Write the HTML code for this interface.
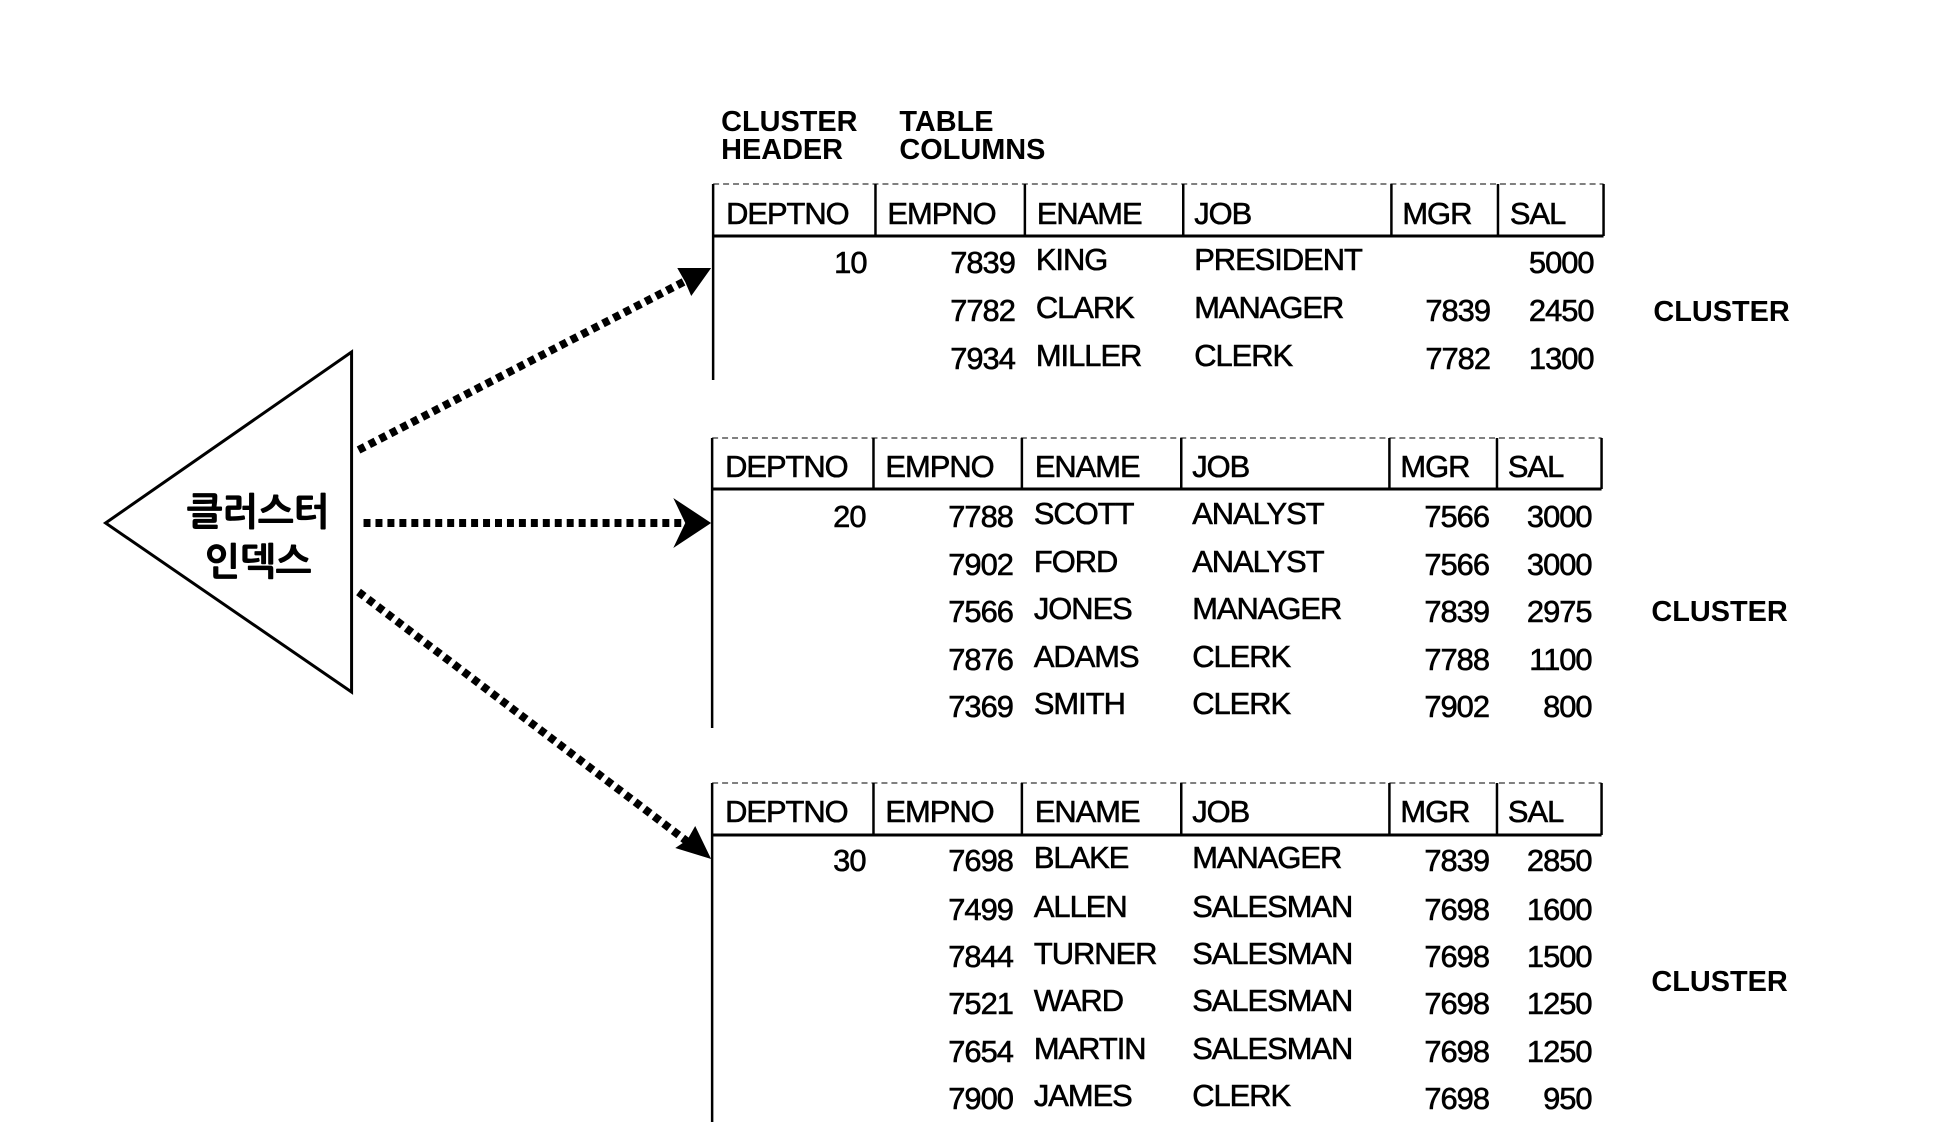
<!DOCTYPE html>
<html><head><meta charset="utf-8"><style>
html,body{margin:0;padding:0;background:#fff;}
svg{display:block}
.h{font-family:"Liberation Sans",sans-serif;font-size:31px;fill:#000;letter-spacing:-1px;stroke:#000;stroke-width:0.6px}
.b{font-family:"Liberation Sans",sans-serif;font-size:29px;font-weight:bold;fill:#000}
.k{font-family:"Liberation Sans","NanumGothic","Noto Sans CJK KR",sans-serif;font-size:38px;font-weight:bold;fill:#000;stroke:#000;stroke-width:0.8px}
</style></head><body>
<svg width="1942" height="1138" viewBox="0 0 1942 1138" xmlns="http://www.w3.org/2000/svg">
<g transform="translate(-2,0) scale(0.996,1)">
<text class="b" x="726" y="131">CLUSTER</text>
<text class="b" x="905" y="131">TABLE</text>
<text class="b" x="726" y="159">HEADER</text>
<text class="b" x="905" y="159">COLUMNS</text>

<polygon points="355,352 108,523 355,692" fill="none" stroke="#000" stroke-width="3"/>
<text class="k" x="261" y="525" text-anchor="middle">클러스터</text>
<text class="k" x="261" y="575" text-anchor="middle">인덱스</text>

<g stroke="#000" stroke-width="8" stroke-dasharray="7 5" fill="none">
<line x1="362" y1="450" x2="692" y2="280"/>
<line x1="367" y1="523" x2="690" y2="523"/>
<line x1="362" y1="592" x2="694" y2="843"/>
</g>
<polygon points="716,268 682,268 690,282 696,296" fill="#000"/>
<polygon points="716,523 678,498 690,523 678,548" fill="#000"/>
<polygon points="716,859 700,826 692,840 680,848" fill="#000"/>

<g stroke="#000" fill="none">
<line x1="718" y1="184" x2="1612" y2="184" stroke-width="1" stroke-dasharray="6 4"/>
<line x1="718" y1="236" x2="1612" y2="236" stroke-width="3"/>
<line x1="718" y1="184" x2="718" y2="380" stroke-width="2.5"/>
<line x1="881" y1="184" x2="881" y2="236" stroke-width="2.5"/>
<line x1="1031" y1="184" x2="1031" y2="236" stroke-width="2.5"/>
<line x1="1190" y1="184" x2="1190" y2="236" stroke-width="2.5"/>
<line x1="1399" y1="184" x2="1399" y2="236" stroke-width="2.5"/>
<line x1="1506" y1="184" x2="1506" y2="236" stroke-width="2.5"/>
<line x1="1612" y1="184" x2="1612" y2="236" stroke-width="2.5"/>
<line x1="717" y1="438" x2="1610" y2="438" stroke-width="1" stroke-dasharray="6 4"/>
<line x1="717" y1="489" x2="1610" y2="489" stroke-width="3"/>
<line x1="717" y1="438" x2="717" y2="728" stroke-width="2.5"/>
<line x1="879" y1="438" x2="879" y2="489" stroke-width="2.5"/>
<line x1="1028" y1="438" x2="1028" y2="489" stroke-width="2.5"/>
<line x1="1188" y1="438" x2="1188" y2="489" stroke-width="2.5"/>
<line x1="1397" y1="438" x2="1397" y2="489" stroke-width="2.5"/>
<line x1="1505" y1="438" x2="1505" y2="489" stroke-width="2.5"/>
<line x1="1610" y1="438" x2="1610" y2="489" stroke-width="2.5"/>
<line x1="717" y1="783" x2="1610" y2="783" stroke-width="1" stroke-dasharray="6 4"/>
<line x1="717" y1="835" x2="1610" y2="835" stroke-width="3"/>
<line x1="717" y1="783" x2="717" y2="1122" stroke-width="2.5"/>
<line x1="879" y1="783" x2="879" y2="835" stroke-width="2.5"/>
<line x1="1028" y1="783" x2="1028" y2="835" stroke-width="2.5"/>
<line x1="1188" y1="783" x2="1188" y2="835" stroke-width="2.5"/>
<line x1="1397" y1="783" x2="1397" y2="835" stroke-width="2.5"/>
<line x1="1505" y1="783" x2="1505" y2="835" stroke-width="2.5"/>
<line x1="1610" y1="783" x2="1610" y2="835" stroke-width="2.5"/>
</g>

<text class="h" x="731" y="224">DEPTNO</text><text class="h" x="893" y="224">EMPNO</text><text class="h" x="1043" y="224">ENAME</text><text class="h" x="1201" y="224">JOB</text><text class="h" x="1410" y="224">MGR</text><text class="h" x="1518" y="224">SAL</text>
<text class="h" x="730" y="477">DEPTNO</text><text class="h" x="891" y="477">EMPNO</text><text class="h" x="1041" y="477">ENAME</text><text class="h" x="1199" y="477">JOB</text><text class="h" x="1408" y="477">MGR</text><text class="h" x="1516" y="477">SAL</text>
<text class="h" x="730" y="822">DEPTNO</text><text class="h" x="891" y="822">EMPNO</text><text class="h" x="1041" y="822">ENAME</text><text class="h" x="1199" y="822">JOB</text><text class="h" x="1408" y="822">MGR</text><text class="h" x="1516" y="822">SAL</text>

<text class="h" x="872" y="273" text-anchor="end">10</text>
<text class="h" x="1021" y="273" text-anchor="end">7839</text><text class="h" x="1042" y="270">KING</text><text class="h" x="1201" y="270">PRESIDENT</text><text class="h" x="1602" y="273" text-anchor="end">5000</text>
<text class="h" x="1021" y="321" text-anchor="end">7782</text><text class="h" x="1042" y="318">CLARK</text><text class="h" x="1201" y="318">MANAGER</text><text class="h" x="1498" y="321" text-anchor="end">7839</text><text class="h" x="1602" y="321" text-anchor="end">2450</text>
<text class="h" x="1021" y="369" text-anchor="end">7934</text><text class="h" x="1042" y="366">MILLER</text><text class="h" x="1201" y="366">CLERK</text><text class="h" x="1498" y="369" text-anchor="end">7782</text><text class="h" x="1602" y="369" text-anchor="end">1300</text>
<text class="b" x="1662" y="321">CLUSTER</text>

<text class="h" x="871" y="527" text-anchor="end">20</text>
<text class="h" x="1019" y="527" text-anchor="end">7788</text><text class="h" x="1040" y="524">SCOTT</text><text class="h" x="1199" y="524">ANALYST</text><text class="h" x="1497" y="527" text-anchor="end">7566</text><text class="h" x="1600" y="527" text-anchor="end">3000</text>
<text class="h" x="1019" y="575" text-anchor="end">7902</text><text class="h" x="1040" y="572">FORD</text><text class="h" x="1199" y="572">ANALYST</text><text class="h" x="1497" y="575" text-anchor="end">7566</text><text class="h" x="1600" y="575" text-anchor="end">3000</text>
<text class="h" x="1019" y="622" text-anchor="end">7566</text><text class="h" x="1040" y="619">JONES</text><text class="h" x="1199" y="619">MANAGER</text><text class="h" x="1497" y="622" text-anchor="end">7839</text><text class="h" x="1600" y="622" text-anchor="end">2975</text>
<text class="h" x="1019" y="670" text-anchor="end">7876</text><text class="h" x="1040" y="667">ADAMS</text><text class="h" x="1199" y="667">CLERK</text><text class="h" x="1497" y="670" text-anchor="end">7788</text><text class="h" x="1600" y="670" text-anchor="end">1100</text>
<text class="h" x="1019" y="717" text-anchor="end">7369</text><text class="h" x="1040" y="714">SMITH</text><text class="h" x="1199" y="714">CLERK</text><text class="h" x="1497" y="717" text-anchor="end">7902</text><text class="h" x="1600" y="717" text-anchor="end">800</text>
<text class="b" x="1660" y="621">CLUSTER</text>

<text class="h" x="871" y="871" text-anchor="end">30</text>
<text class="h" x="1019" y="871" text-anchor="end">7698</text><text class="h" x="1040" y="868">BLAKE</text><text class="h" x="1199" y="868">MANAGER</text><text class="h" x="1497" y="871" text-anchor="end">7839</text><text class="h" x="1600" y="871" text-anchor="end">2850</text>
<text class="h" x="1019" y="920" text-anchor="end">7499</text><text class="h" x="1040" y="917">ALLEN</text><text class="h" x="1199" y="917">SALESMAN</text><text class="h" x="1497" y="920" text-anchor="end">7698</text><text class="h" x="1600" y="920" text-anchor="end">1600</text>
<text class="h" x="1019" y="967" text-anchor="end">7844</text><text class="h" x="1040" y="964">TURNER</text><text class="h" x="1199" y="964">SALESMAN</text><text class="h" x="1497" y="967" text-anchor="end">7698</text><text class="h" x="1600" y="967" text-anchor="end">1500</text>
<text class="h" x="1019" y="1014" text-anchor="end">7521</text><text class="h" x="1040" y="1011">WARD</text><text class="h" x="1199" y="1011">SALESMAN</text><text class="h" x="1497" y="1014" text-anchor="end">7698</text><text class="h" x="1600" y="1014" text-anchor="end">1250</text>
<text class="h" x="1019" y="1062" text-anchor="end">7654</text><text class="h" x="1040" y="1059">MARTIN</text><text class="h" x="1199" y="1059">SALESMAN</text><text class="h" x="1497" y="1062" text-anchor="end">7698</text><text class="h" x="1600" y="1062" text-anchor="end">1250</text>
<text class="h" x="1019" y="1109" text-anchor="end">7900</text><text class="h" x="1040" y="1106">JAMES</text><text class="h" x="1199" y="1106">CLERK</text><text class="h" x="1497" y="1109" text-anchor="end">7698</text><text class="h" x="1600" y="1109" text-anchor="end">950</text>
<text class="b" x="1660" y="991">CLUSTER</text>
</g>
</svg>
</body></html>
